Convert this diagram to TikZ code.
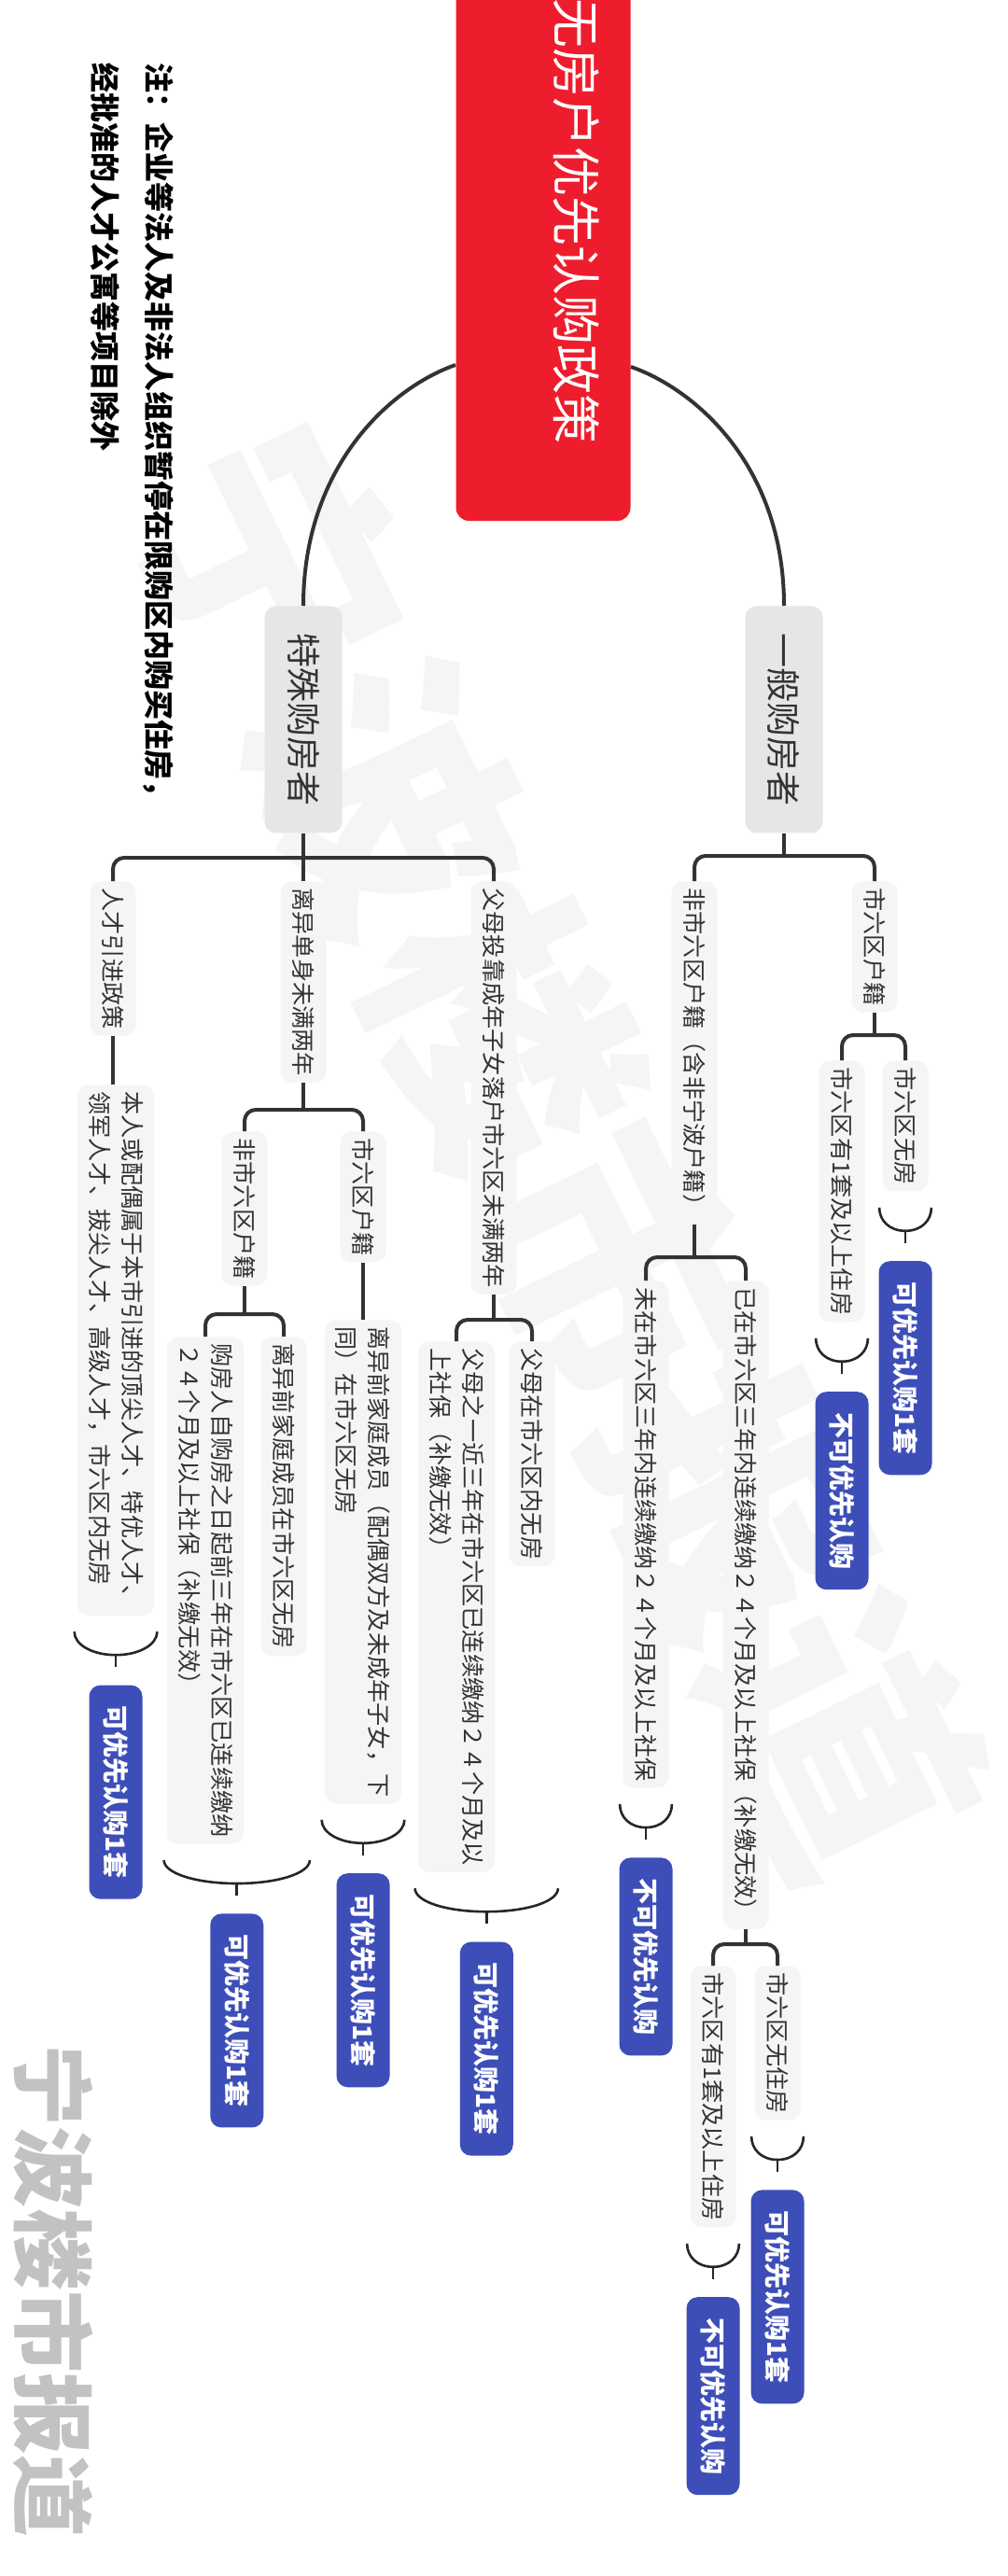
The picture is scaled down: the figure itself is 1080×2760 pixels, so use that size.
\documentclass[tikz,border=0pt]{standalone}
\usepackage{fontspec}
\setmainfont{Noto Sans CJK SC}
\usepackage{xcolor}
\usepackage{tikz}
\usetikzlibrary{calc}

\definecolor{rootred}{HTML}{EE1D2D}
\definecolor{branchgray}{HTML}{E6E6E6}
\definecolor{leafgray}{HTML}{F5F5F5}
\definecolor{inkgray}{HTML}{333333}
\definecolor{verdictblue}{HTML}{3D4EB8}
\definecolor{markgray}{HTML}{C2C2C2}
\definecolor{ghostgray}{HTML}{F5F5F5}

\begin{document}
\begin{tikzpicture}[
  x=0.5pt, y=-0.5pt,
  rootbox/.style={fill=rootred, rounded corners=7pt, rotate=-90, inner sep=0pt,
                  minimum width=299pt, minimum height=93.5pt},
  roottext/.style={rotate=-90, text=white, inner sep=0pt, font=\fontsize{26.5}{30}\selectfont},
  notetext/.style={rotate=-90, align=left, inner sep=0pt,
                   font=\bfseries\fontsize{16}{29}\selectfont},
  branch/.style={fill=branchgray, rounded corners=6pt, rotate=-90, text=inkgray, inner sep=0pt,
                 minimum width=121.5pt, minimum height=41.5pt, font=\fontsize{18.5}{22}\selectfont},
  leaf/.style={fill=leafgray, rounded corners=6pt, rotate=-90, text=inkgray, align=left,
               inner xsep=3.5pt, inner ysep=1pt, minimum height=24.5pt,
               font=\fontsize{12.6}{17.5}\selectfont},
  leaftwo/.style={leaf, minimum height=41pt},
  verdict/.style={fill=verdictblue, rounded corners=6pt, rotate=-90, text=white,
                  inner xsep=11pt, inner ysep=1pt, minimum height=28.5pt,
                  font=\bfseries\fontsize{14}{17}\selectfont},
  ghost/.style={text=ghostgray, inner sep=0pt, font=\bfseries\fontsize{140}{140}\selectfont},
  stamp/.style={rotate=-90, text=markgray, inner sep=0pt, font=\bfseries\fontsize{44}{44}\selectfont},
  link/.style={draw=inkgray, line width=2pt, rounded corners=6pt},
  trunk/.style={draw=inkgray, line width=2pt},
  cup/.style={draw=black!85, line width=1.3pt},
]

  \fill[white] (0,0) rectangle (1080,2760);
  \useasboundingbox (0,0) rectangle (1080,2760);

  % faint backdrop
  \node[ghost, rotate=-64] (ghost) at (600,1230) {宁波楼市报道};

  % root and note
  \node[rootbox] (root) at (582,259) {};
  \node[roottext] (roottxt) at (618,237) {无房户优先认购政策};
  \node[notetext, anchor=north west] (note) at (187,67)
    {注：企业等法人及非法人组织暂停在限购区内购买住房，\\经批准的人才公寓等项目除外};

  % two buyer groups
  \node[branch, anchor=west] (gen) at (840,649) {一般购房者};
  \node[branch, anchor=west] (spe) at (325,649) {特殊购房者};
  \draw[trunk] ($(root.south)+(0,132)$) .. controls +(-69,24) and +(0,-150) .. (spe.west);
  \draw[trunk] ($(root.north)+(0,134)$) .. controls +(69,24) and +(0,-150) .. (gen.west);

  % general buyers
  \node[leaf, anchor=west] (g1) at (937,944) {市六区户籍};
  \node[leaf, anchor=west] (g2) at (744,944) {非市六区户籍（含非宁波户籍）};
  \draw[link] (gen.east) -- ($(gen.east |- g1.west)+(0,-27)$);
  \draw[link] (g2.west) -- ++(0,-27) -| (g1.west);

  \node[leaf, anchor=west] (g11) at (970,1136) {市六区无房};
  \node[leaf, anchor=west] (g12) at (902,1136) {市六区有1套及以上住房};
  \draw[link] (g1.east) -- ($(g1.east |- g11.west)+(0,-27)$);
  \draw[link] (g12.west) -- ++(0,-27) -| (g11.west);

  \node[leaf, anchor=west] (g21) at (799,1372) {已在市六区三年内连续缴纳２４个月及以上社保（补缴无效）};
  \node[leaf, anchor=west] (g22) at (692,1372) {未在市六区三年内连续缴纳２４个月及以上社保};
  \draw[link] (g2.east) -- ($(g2.east |- g21.west)+(0,-25)$);
  \draw[link] (g22.west) -- ++(0,-25) -| (g21.west);

  \node[leaf, anchor=west] (g211) at (833,2106) {市六区无住房};
  \node[leaf, anchor=west] (g212) at (764,2106) {市六区有1套及以上住房};
  \draw[link] (g21.east) -- ($(g21.east |- g211.west)+(0,-23)$);
  \draw[link] (g212.west) -- ++(0,-23) -| (g211.west);

  % special buyers
  \node[leaf, anchor=west] (s1) at (121,944) {人才引进政策};
  \node[leaf, anchor=west] (s2) at (325,944) {离异单身未满两年};
  \node[leaf, anchor=west] (s3) at (529,944) {父母投靠成年子女落户市六区未满两年};
  \draw[link] (spe.east) -- (s2.west);
  \draw[link] (s1.west) -- ++(0,-25) -| (s3.west);

  \node[leaftwo, anchor=west] (s11) at (124,1162)
    {本人或配偶属于本市引进的顶尖人才、特优人才、\\领军人才、拔尖人才、高级人才，市六区内无房};
  \draw[link] (s1.east) -- (s1.east |- s11.west);

  \node[leaf, anchor=west] (s21) at (389,1212) {市六区户籍};
  \node[leaf, anchor=west] (s22) at (262,1212) {非市六区户籍};
  \draw[link] (s2.east) -- ($(s2.east |- s21.west)+(0,-23)$);
  \draw[link] (s22.west) -- ++(0,-23) -| (s21.west);

  \node[leaftwo, anchor=west] (s211) at (389,1414)
    {离异前家庭成员（配偶双方及未成年子女，下\\同）在市六区无房};
  \draw[link] (s21.east) -- (s21.east |- s211.west);

  \node[leaf, anchor=west] (s221) at (304,1432) {离异前家庭成员在市六区无房};
  \node[leaftwo, anchor=west] (s222) at (220,1432)
    {购房人自购房之日起前三年在市六区已连续缴纳\\２４个月及以上社保（补缴无效）};
  \draw[link] (s22.east) -- ($(s22.east |- s221.west)+(0,-24)$);
  \draw[link] (s222.west) -- ++(0,-24) -| (s221.west);

  \node[leaf, anchor=west] (s31) at (570,1437) {父母在市六区内无房};
  \node[leaftwo, anchor=west] (s32) at (489,1437)
    {父母之一近三年在市六区已连续缴纳２４个月及以\\上社保（补缴无效）};
  \draw[link] (s3.east) -- ($(s3.east |- s31.west)+(0,-23)$);
  \draw[link] (s32.west) -- ++(0,-23) -| (s31.west);

  % summaries and verdicts, general side
  \draw[cup] ($(g11.south east)+(-3,17)$) .. controls +(0,14) and +(-17,0) .. ($(g11.east)+(0,42)$)
    .. controls +(17,0) and +(0,14) .. ($(g11.north east)+(3,17)$);
  \draw[cup] ($(g11.east)+(0,42)$) -- ++(0,13);
  \node[verdict, anchor=west] (v11) at ($(g11.east)+(0,74)$) {可优先认购1套};

  \draw[cup] ($(g12.south east)+(-3,17)$) .. controls +(0,14) and +(-17,0) .. ($(g12.east)+(0,42)$)
    .. controls +(17,0) and +(0,14) .. ($(g12.north east)+(3,17)$);
  \draw[cup] ($(g12.east)+(0,42)$) -- ++(0,13);
  \node[verdict, anchor=west] (v12) at ($(g12.east)+(0,74)$) {不可优先认购};

  \draw[cup] ($(g22.south east)+(-3,17)$) .. controls +(0,14) and +(-17,0) .. ($(g22.east)+(0,42)$)
    .. controls +(17,0) and +(0,14) .. ($(g22.north east)+(3,17)$);
  \draw[cup] ($(g22.east)+(0,42)$) -- ++(0,13);
  \node[verdict, anchor=west] (v22) at ($(g22.east)+(0,74)$) {不可优先认购};

  \draw[cup] ($(g211.south east)+(-3,17)$) .. controls +(0,14) and +(-17,0) .. ($(g211.east)+(0,42)$)
    .. controls +(17,0) and +(0,14) .. ($(g211.north east)+(3,17)$);
  \draw[cup] ($(g211.east)+(0,42)$) -- ++(0,13);
  \node[verdict, anchor=west] (v211) at ($(g211.east)+(0,74)$) {可优先认购1套};

  \draw[cup] ($(g212.south east)+(-3,17)$) .. controls +(0,14) and +(-17,0) .. ($(g212.east)+(0,42)$)
    .. controls +(17,0) and +(0,14) .. ($(g212.north east)+(3,17)$);
  \draw[cup] ($(g212.east)+(0,42)$) -- ++(0,13);
  \node[verdict, anchor=west] (v212) at ($(g212.east)+(0,74)$) {不可优先认购};

  % summaries and verdicts, special side
  \draw[cup] ($(s11.south east)+(-3,17)$) .. controls +(0,14) and +(-25,0) .. ($(s11.east)+(0,42)$)
    .. controls +(25,0) and +(0,14) .. ($(s11.north east)+(3,17)$);
  \draw[cup] ($(s11.east)+(0,42)$) -- ++(0,13);
  \node[verdict, anchor=west] (v11s) at ($(s11.east)+(0,74)$) {可优先认购1套};

  \draw[cup] ($(s211.south east)+(-3,17)$) .. controls +(0,14) and +(-25,0) .. ($(s211.east)+(0,42)$)
    .. controls +(25,0) and +(0,14) .. ($(s211.north east)+(3,17)$);
  \draw[cup] ($(s211.east)+(0,42)$) -- ++(0,13);
  \node[verdict, anchor=west] (v211s) at ($(s211.east)+(0,74)$) {可优先认购1套};

  \coordinate (k22l) at ($(s222.south east)+(-3,17)$);
  \coordinate (k22r) at ($(s221.north |- s222.east)+(3,17)$);
  \coordinate (k22b) at ($(k22l)!0.5!(k22r)+(0,25)$);
  \draw[cup] (k22l) .. controls +(0,14) and +(-44,0) .. (k22b) .. controls +(44,0) and +(0,14) .. (k22r);
  \draw[cup] (k22b) -- ++(0,13);
  \node[verdict, anchor=west] (v22s) at ($(k22b)+(0,32)$) {可优先认购1套};

  \coordinate (k3l) at ($(s32.south east)+(-3,17)$);
  \coordinate (k3r) at ($(s31.north |- s32.east)+(3,17)$);
  \coordinate (k3b) at ($(k3l)!0.5!(k3r)+(0,25)$);
  \draw[cup] (k3l) .. controls +(0,14) and +(-44,0) .. (k3b) .. controls +(44,0) and +(0,14) .. (k3r);
  \draw[cup] (k3b) -- ++(0,13);
  \node[verdict, anchor=west] (v3s) at ($(k3b)+(0,32)$) {可优先认购1套};

  % corner stamp
  \node[stamp, anchor=west] (stamp) at (57,2190) {宁波楼市报道};

\end{tikzpicture}
\end{document}
